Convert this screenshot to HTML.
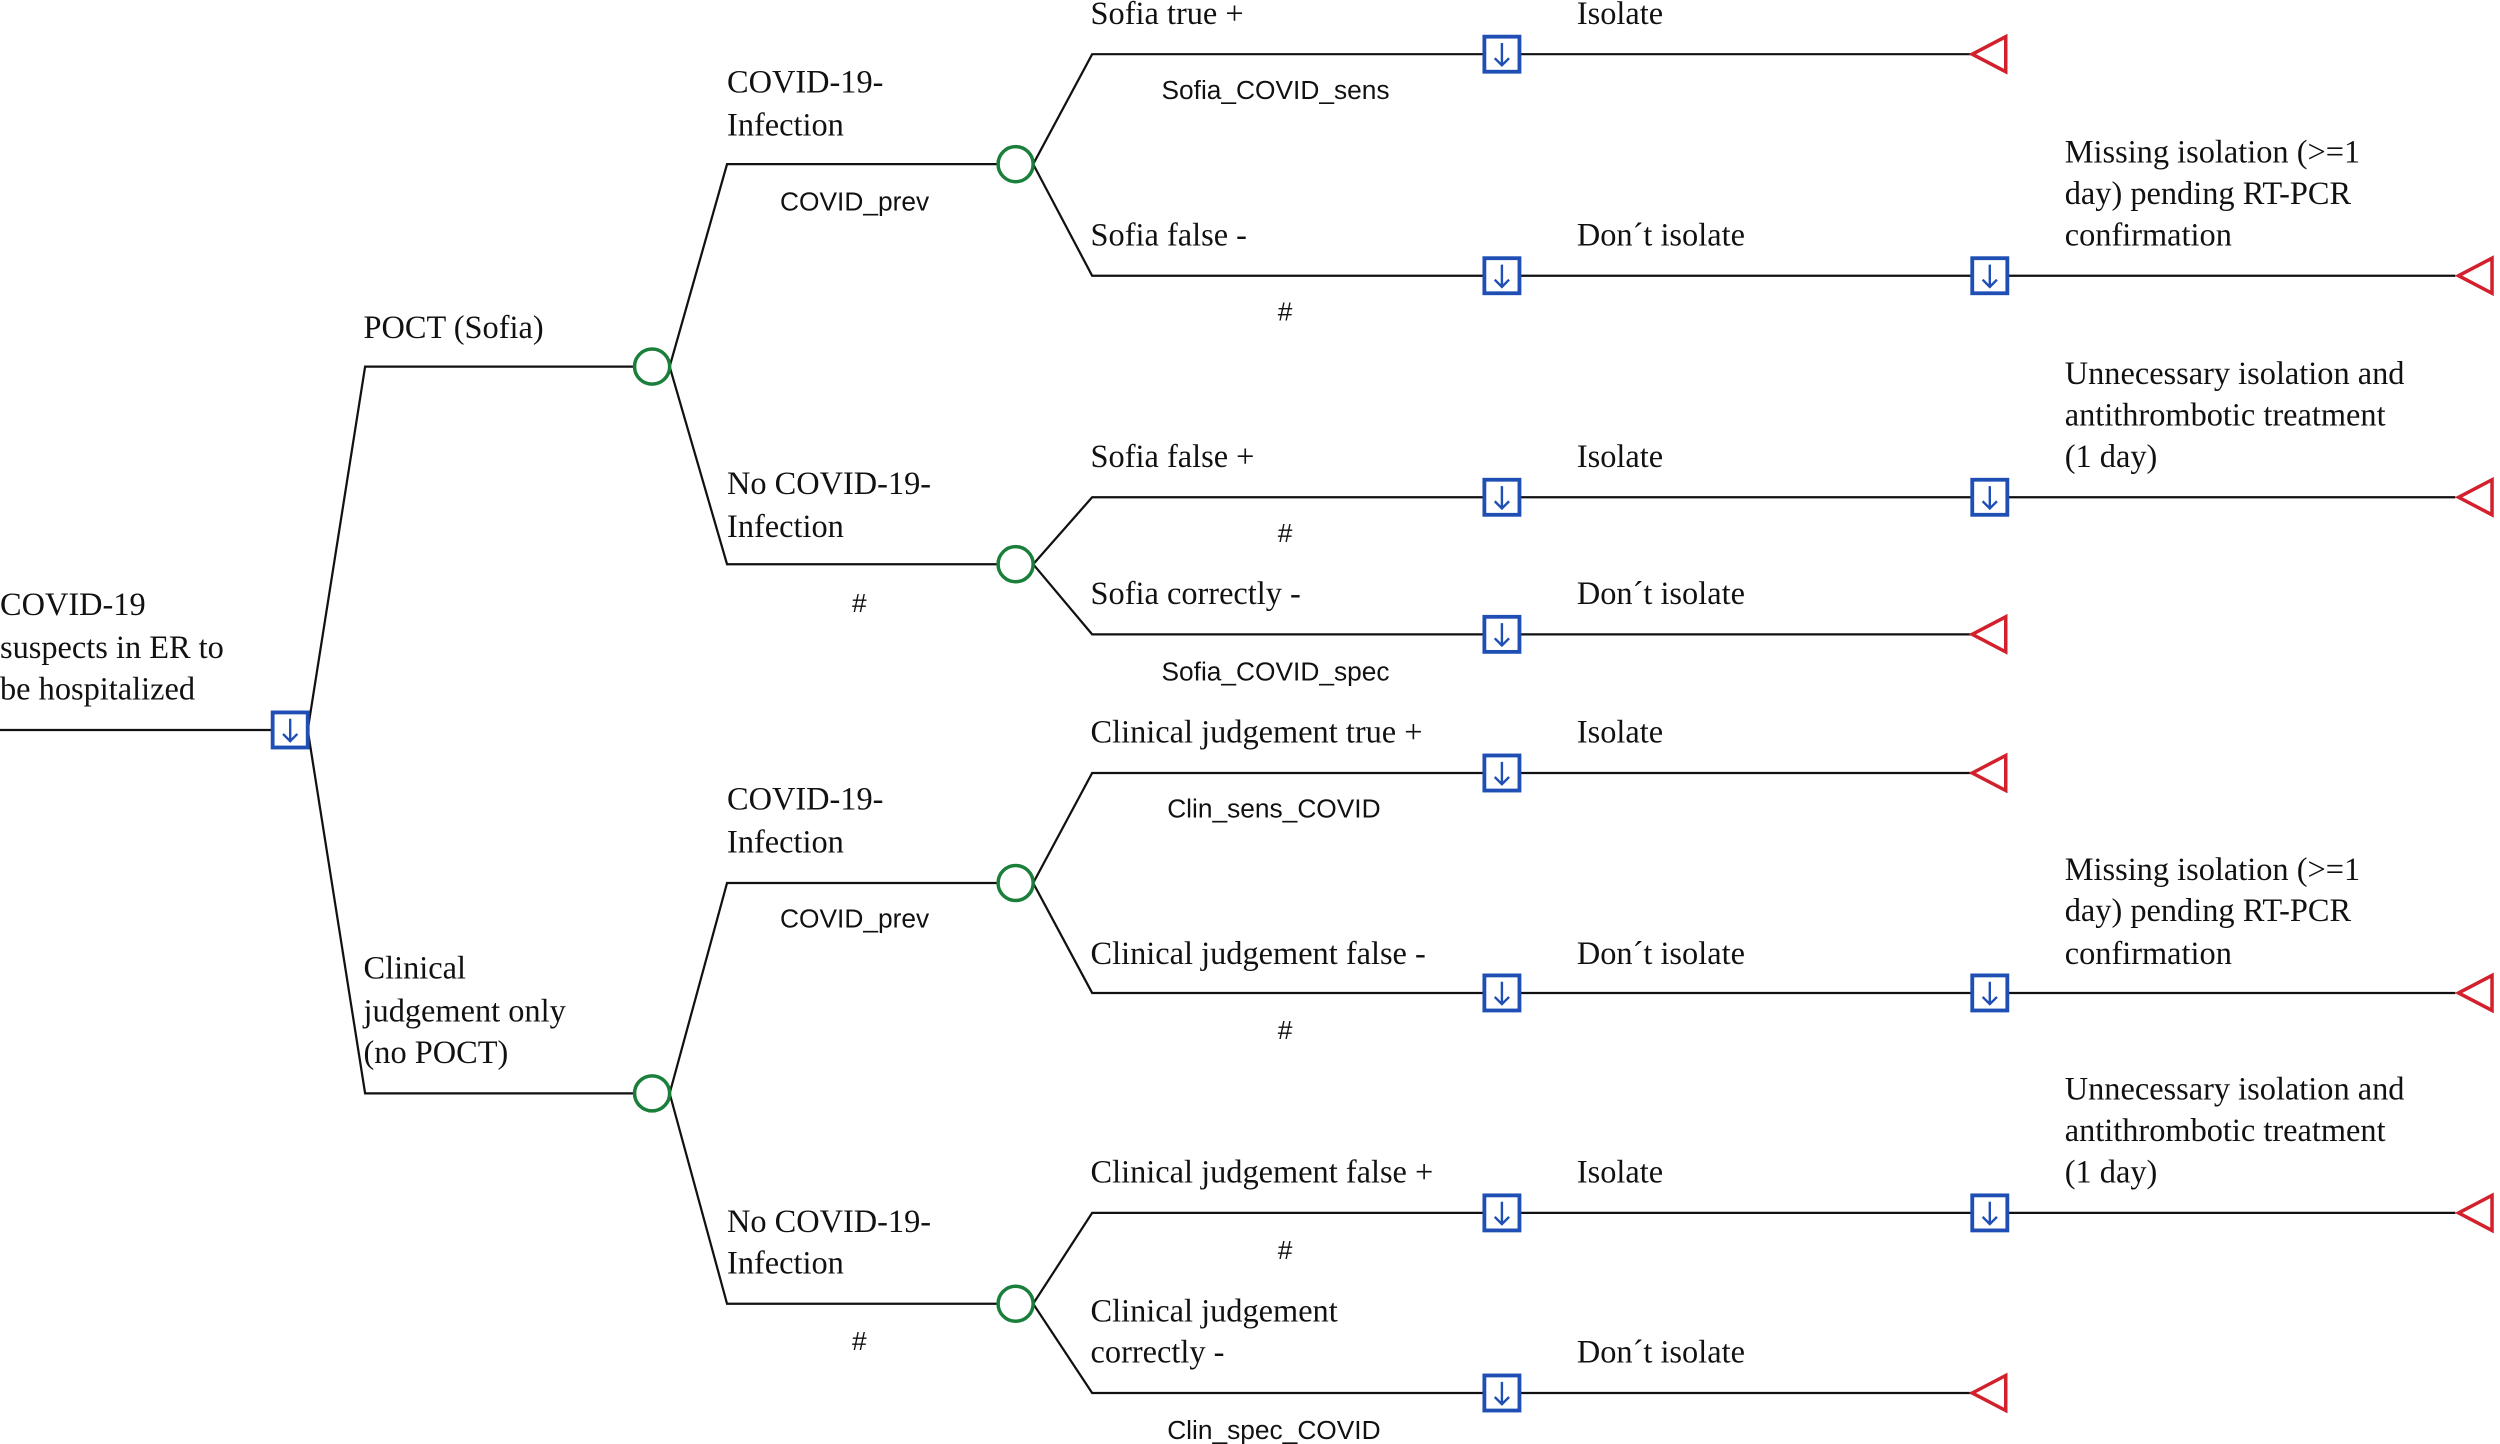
<!DOCTYPE html>
<html><head><meta charset="utf-8"><style>
html,body{margin:0;padding:0;background:#fff;}
svg{display:block;}
.t{font-family:"Liberation Serif",serif;font-size:20.3px;fill:#111;}
.s{font-family:"Liberation Sans",sans-serif;font-size:16.5px;fill:#111;text-anchor:middle;}
.l{stroke:#111;stroke-width:1.4;fill:none;}
.c{stroke:#1a7f3a;stroke-width:2.2;fill:#fff;}
.tr{stroke:#d2202c;stroke-width:2.2;fill:#fff;}
</style></head><body>
<svg width="2500" height="1444" viewBox="0 0 1568 906" preserveAspectRatio="none" xmlns="http://www.w3.org/2000/svg">
<defs>
<g id="box"><rect x="-11" y="-11" width="22" height="22" fill="#fff" stroke="#1f4fb5" stroke-width="2.4"/><path d="M0,-7 V7 M-4.5,2.5 L0,7 L4.5,2.5" stroke="#1f4fb5" stroke-width="1.5" fill="none"/></g>
<g id="cir"><circle r="11" class="c"/></g>
<g id="tri"><path d="M-10,0 L11,-11 L11,11 Z" class="tr"/></g>
</defs>
<path class="l" d="M0,458 H171 M193,458 L229,230 H398 M193,458 L229,686 H398"/>
<path class="l" d="M420,230 L456,103 H626 M420,230 L456,354 H626 M420,686 L456,554 H626 M420,686 L456,818 H626"/>
<path class="l" d="M648,103 L685,34 H1237 M648,103 L685,173 H1540 M648,354 L685,312 H1540 M648,354 L685,398 H1237"/>
<path class="l" d="M648,554 L685,485 H1237 M648,554 L685,623 H1540 M648,818 L685,761 H1540 M648,818 L685,874 H1237"/>
<use href="#box" x="182" y="458"/>
<use href="#cir" x="409" y="230"/><use href="#cir" x="409" y="686"/>
<use href="#cir" x="637" y="103"/><use href="#cir" x="637" y="354"/><use href="#cir" x="637" y="554"/><use href="#cir" x="637" y="818"/>
<use href="#box" x="942" y="34"/><use href="#box" x="942" y="173"/><use href="#box" x="942" y="312"/><use href="#box" x="942" y="398"/>
<use href="#box" x="942" y="485"/><use href="#box" x="942" y="623"/><use href="#box" x="942" y="761"/><use href="#box" x="942" y="874"/>
<use href="#box" x="1248" y="173"/><use href="#box" x="1248" y="312"/><use href="#box" x="1248" y="623"/><use href="#box" x="1248" y="761"/>
<use href="#tri" x="1247" y="34"/><use href="#tri" x="1247" y="398"/><use href="#tri" x="1247" y="485"/><use href="#tri" x="1247" y="874"/>
<use href="#tri" x="1552" y="173"/><use href="#tri" x="1552" y="312"/><use href="#tri" x="1552" y="623"/><use href="#tri" x="1552" y="761"/>
<text class="t" x="0" y="386">COVID-19</text><text class="t" x="0" y="413">suspects in ER to</text><text class="t" x="0" y="439">be hospitalized</text>
<text class="t" x="228" y="212">POCT (Sofia)</text>
<text class="t" x="228" y="614">Clinical</text><text class="t" x="228" y="641">judgement only</text><text class="t" x="228" y="667">(no POCT)</text>
<text class="t" x="456" y="58">COVID-19-</text><text class="t" x="456" y="85">Infection</text>
<text class="s" x="536" y="132">COVID_prev</text>
<text class="t" x="456" y="310">No COVID-19-</text><text class="t" x="456" y="337">Infection</text>
<text class="s" x="539" y="384">#</text>
<text class="t" x="456" y="508">COVID-19-</text><text class="t" x="456" y="535">Infection</text>
<text class="s" x="536" y="582">COVID_prev</text>
<text class="t" x="456" y="773">No COVID-19-</text><text class="t" x="456" y="799">Infection</text>
<text class="s" x="539" y="847">#</text>
<text class="t" x="684" y="15">Sofia true  +</text><text class="s" x="800" y="62">Sofia_COVID_sens</text>
<text class="t" x="684" y="154">Sofia false  -</text><text class="s" x="806" y="201">#</text>
<text class="t" x="684" y="293">Sofia false +</text><text class="s" x="806" y="340">#</text>
<text class="t" x="684" y="379">Sofia correctly  -</text><text class="s" x="800" y="427">Sofia_COVID_spec</text>
<text class="t" x="684" y="466">Clinical judgement true  +</text><text class="s" x="799" y="513">Clin_sens_COVID</text>
<text class="t" x="684" y="605">Clinical judgement false  -</text><text class="s" x="806" y="652">#</text>
<text class="t" x="684" y="742">Clinical judgement false +</text><text class="s" x="806" y="790">#</text>
<text class="t" x="684" y="829">Clinical judgement</text><text class="t" x="684" y="855">correctly  -</text><text class="s" x="799" y="903">Clin_spec_COVID</text>
<text class="t" x="989" y="15">Isolate</text>
<text class="t" x="989" y="154">Don´t isolate</text>
<text class="t" x="989" y="293">Isolate</text>
<text class="t" x="989" y="379">Don´t isolate</text>
<text class="t" x="989" y="466">Isolate</text>
<text class="t" x="989" y="605">Don´t isolate</text>
<text class="t" x="989" y="742">Isolate</text>
<text class="t" x="989" y="855">Don´t isolate</text>
<text class="t" x="1295" y="102">Missing isolation  (&gt;=1</text><text class="t" x="1295" y="128">day) pending RT-PCR</text><text class="t" x="1295" y="154">confirmation</text>
<text class="t" x="1295" y="241">Unnecessary isolation and</text><text class="t" x="1295" y="267">antithrombotic treatment</text><text class="t" x="1295" y="293">(1 day)</text>
<text class="t" x="1295" y="552">Missing isolation  (&gt;=1</text><text class="t" x="1295" y="578">day) pending RT-PCR</text><text class="t" x="1295" y="605">confirmation</text>
<text class="t" x="1295" y="690">Unnecessary isolation and</text><text class="t" x="1295" y="716">antithrombotic treatment</text><text class="t" x="1295" y="742">(1 day)</text>
</svg>
</body></html>
